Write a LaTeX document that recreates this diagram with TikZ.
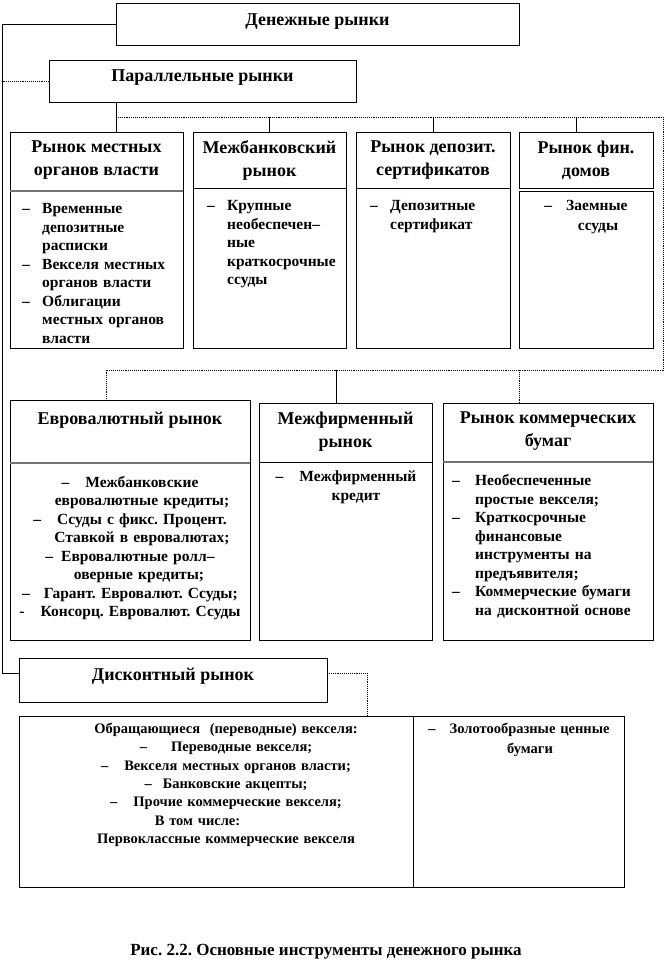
\documentclass[tikz,border=0pt]{standalone}
\usepackage{fontspec}
\setmainfont{Liberation Serif}
\usetikzlibrary{positioning,calc}
\frenchspacing

\newcommand{\itm}[2][20pt]{\par\hangindent=#1\hangafter=1\noindent\makebox[#1][l]{–}#2\par}

\tikzset{
  frame/.style={draw=black,line width=0.9pt,anchor=north west,inner sep=0pt,outer sep=0pt},
  head/.style={font=\bfseries\fontsize{18}{23}\selectfont,align=center,inner sep=0pt},
  items/.style={font=\bfseries\fontsize{15.5}{18.5}\selectfont,inner sep=0pt,
                anchor=north west,align=left},
  cntr/.style={font=\bfseries\fontsize{15.5}{18.5}\selectfont,inner sep=0pt,
               anchor=north,align=center},
  small/.style={font=\bfseries\fontsize{14.5}{18.3}\selectfont,inner sep=0pt,
                anchor=north,align=center},
  split/.style={draw=black,line width=0.9pt},
  grsplit/.style={draw=black!55,line width=1.6pt},
  link/.style={draw=black,line width=0.9pt},
  dlink/.style={draw=black,line width=0.9pt,densely dotted}
}

\begin{document}
\begin{tikzpicture}[x=1pt,y=-1pt]
  \useasboundingbox (0,0) rectangle (666,978);

  % Top levels
  \node[frame,minimum width=403pt,minimum height=42pt] (money) at (116,3) {};
  \node[head,below=11pt of money.north] (moneyt) {Денежные рынки};
  \node[frame,minimum width=307pt,minimum height=42pt] (par) at (49,60) {};
  \node[head,below=10pt of par.north] (part) {Параллельные рынки};

  % Parallel markets
  \node[frame,minimum width=173pt,minimum height=216pt] (loc) at (10,132) {};
  \draw[grsplit] ($(loc.north west)+(0,59)$) -- ($(loc.north east)+(0,59)$);
  \node[head,below=9pt of loc.north] (loct) {Рынок местных\\органов власти};
  \node[items,text width=156pt] (locl) at (22,195) {%
    \itm{Временные\newline депозитные\newline расписки}
    \itm{Векселя местных\newline органов власти}
    \itm{Облигации\newline местных органов\newline власти}};

  \node[frame,minimum width=153pt,minimum height=216pt] (ib) at (193,132) {};
  \draw[split] ($(ib.north west)+(0,56)$) -- ($(ib.north east)+(0,56)$);
  \node[head,below=8pt of ib.north] (ibt) {Межбанковский\\рынок};
  \node[items,text width=135pt] (ibl) at (207,192) {%
    \itm{Крупные\newline необеспечен–\newline ные\newline краткосрочные\newline ссуды}};

  \node[frame,minimum width=154pt,minimum height=216pt] (dep) at (356,132) {};
  \draw[split] ($(dep.north west)+(0,56)$) -- ($(dep.north east)+(0,56)$);
  \node[head,below=9pt of dep.north] (dept) {Рынок депозит.\\сертификатов};
  \node[items,text width=136pt] (depl) at (370,192) {%
    \itm{Депозитные\newline сертификат}};

  \node[frame,minimum width=134pt,minimum height=56pt] (fin) at (519,132) {};
  \node[head,below=9pt of fin.north] (fint) {Рынок фин.\\домов};
  \node[frame,minimum width=134pt,minimum height=157pt] (finb) at (519,191) {};
  \node[cntr,text width=130pt,font=\bfseries\fontsize{15.5}{20}\selectfont]
    (finl) at (586,200) {–\hspace{14pt}Заемные\\\hspace*{24pt}ссуды};

  % Second row
  \node[frame,minimum width=240pt,minimum height=240pt] (euro) at (10,400) {};
  \draw[grsplit] ($(euro.north west)+(0,63)$) -- ($(euro.north east)+(0,63)$);
  \node[head,below=12pt of euro.north] (eurot) {Евровалютный рынок};
  \node[cntr,text width=236pt] (eurol) at (130,476) {%
    –\hspace{16pt}Межбанковские\\
    \hspace*{24pt}евровалютные кредиты;\\
    –\hspace{16pt}Ссуды с фикс. Процент.\\
    \hspace*{24pt}Ставкой в евровалютах;\\
    –\hspace{8pt}Евровалютные ролл–\\
    \hspace*{18pt}оверные кредиты;\\
    –\hspace{14pt}Гарант. Евровалют. Ссуды;\\
    -\hspace{16pt}Консорц. Евровалют. Ссуды};

  \node[frame,minimum width=173pt,minimum height=237pt] (inter) at (259,403) {};
  \draw[split] ($(inter.north west)+(0,59)$) -- ($(inter.north east)+(0,59)$);
  \node[head,below=9pt of inter.north] (intert) {Межфирменный\\рынок};
  \node[cntr,text width=170pt] (interl) at (346,471) {%
    –\hspace{16pt}Межфирменный\\\hspace*{20pt}кредит};

  \node[frame,minimum width=210pt,minimum height=237pt] (comm) at (443,403) {};
  \draw[grsplit] ($(comm.north west)+(0,59)$) -- ($(comm.north east)+(0,59)$);
  \node[head,below=9pt of comm.north] (commt) {Рынок коммерческих\\бумаг};
  \node[items,text width=198pt] (comml) at (452,467) {%
    \itm[23pt]{Необеспеченные\newline простые векселя;}
    \itm[23pt]{Краткосрочные\newline финансовые\newline инструменты на\newline предъявителя;}
    \itm[23pt]{Коммерческие бумаги\newline на дисконтной основе}};

  % Discount market
  \node[frame,minimum width=308pt,minimum height=44pt] (disc) at (19,658) {};
  \node[head,below=10pt of disc.north] (disct) {Дисконтный рынок};
  \node[frame,minimum width=605pt,minimum height=171pt] (disb) at (19,716) {};
  \draw[split] ($(disb.north west)+(394,0)$) -- ($(disb.south west)+(394,0)$);
  \node[small,text width=380pt] (discl) at (226,723) {%
    Обращающиеся~~(переводные) векселя:\\
    –\hspace{24pt}Переводные векселя;\\
    –\hspace{16pt}Векселя местных органов власти;\\
    –\hspace{11pt}Банковские акцепты;\\
    –\hspace{16pt}Прочие коммерческие векселя;\\
    В том числе:\rule{57pt}{0pt}\\
    Первоклассные коммерческие векселя};
  \node[small,text width=205pt,font=\bfseries\fontsize{14.5}{20}\selectfont]
    (discr) at (519,723) {–\hspace{14pt}Золотообразные ценные\\\hspace*{22pt}бумаги};

  % Connectors
  \coordinate (spine) at (2,0);
  \coordinate (busL) at (116,117);
  \coordinate (busR) at (663,117);
  \coordinate (bus2R) at (663,370);
  \coordinate (bus2L) at (106,370);
  \coordinate (finx) at (576,117);
  \coordinate (interx) at (336,370);
  \coordinate (commx) at (519,370);
  \coordinate (disbx) at (367,700);
  \draw[link] (money.west) -| ($(disc.west)+(-17,-7)$) -- ($(disc.west)+(0,-7)$);
  \draw[dlink] (par.west) -- (spine |- par.west);
  \draw[link] (par.south -| busL) -- (busL |- loc.north);
  \draw[dlink] (busL) -- (busR) -- (bus2R) -- (bus2L) -- (bus2L |- euro.north);
  \draw[link] (ib.north |- busL) -- (ib.north);
  \draw[link] (dep.north |- busL) -- (dep.north);
  \draw[link] (finx) -- (finx |- fin.north);
  \draw[link] (interx) -- (interx |- inter.north);
  \draw[dlink] (commx) -- (commx |- comm.north);
  \draw[dlink] ($(disc.east)+(0,-7)$) -| (disbx |- disb.north);

  \node[font=\bfseries\fontsize{17}{20}\selectfont,inner sep=0pt,anchor=north]
    (caption) at (326,944) {Рис. 2.2. Основные инструменты денежного рынка};
\end{tikzpicture}
\end{document}
